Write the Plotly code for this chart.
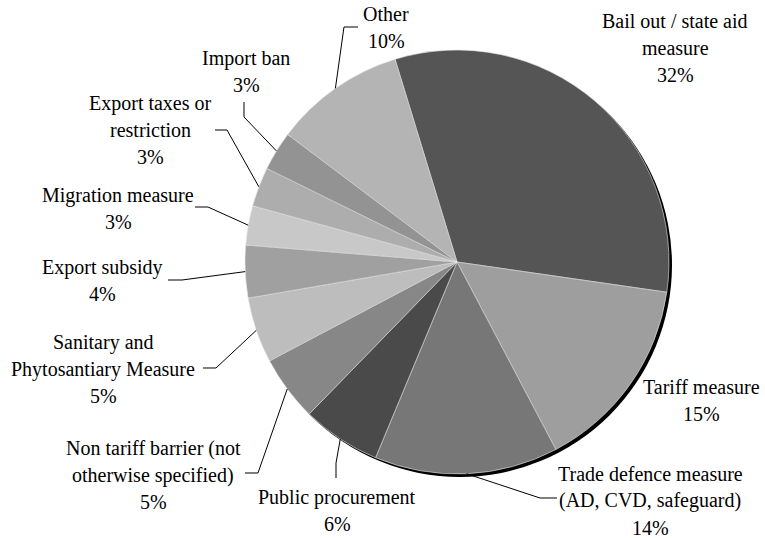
import math
import plotly.graph_objects as go

# ---------------- data ----------------
categories = [
    "Bail out / state aid\nmeasure",
    "Tariff measure",
    "Trade defence measure\n(AD, CVD, safeguard)",
    "Public procurement",
    "Non tariff barrier (not\notherwise specified)",
    "Sanitary and\nPhytosantiary Measure",
    "Export subsidy",
    "Migration measure",
    "Export taxes or\nrestriction",
    "Import ban",
    "Other",
]
values = [32, 15, 14, 6, 5, 5, 4, 3, 3, 3, 10]

# ---------------- style ----------------
colors = ["#555555", "#9e9e9e", "#777777", "#4a4a4a", "#878787", "#bdbdbd",
          "#a0a0a0", "#c8c8c8", "#adadad", "#939393", "#b4b4b4"]

W, H = 765, 538
CX, CY, R = 457, 262, 212
ROT = -17
FAMILY = "Liberation Serif, Times New Roman, serif"
FONT = dict(family=FAMILY, size=20, color="#000000")
LINE_H = 27

# label block positions (text centre x, first line centre y) in pixels
label_pos = [(675, 21), (701, 387), (650, 474), (337, 497), (153, 448),
             (103, 342), (102, 267), (118, 195), (150, 103), (246, 58), (386, 14)]
# leader elbow points (from slice edge outwards) in pixels
leaders = [None, None,
           [(540, 498), (557, 498)],
           [(336, 463), (336, 478)],
           [(258, 473), (245, 473)],
           [(216, 368), (203, 368)],
           [(182, 280), (168, 280)],
           [(208, 207), (195, 207)],
           [(227, 130), (215, 130)],
           [(244, 117), (244, 102)],
           [(344, 27), (358, 27)]]


def px(x):
    return x / W


def py(y):
    return 1 - y / H


dom_x = [px(CX - R), px(CX + R)]
dom_y = [py(CY + R), py(CY - R)]
SH = 3
shadow_x = [px(CX - R + SH), px(CX + R + SH)]
shadow_y = [py(CY + R + SH), py(CY - R + SH)]

fig = go.Figure()
fig.add_trace(go.Pie(
    values=[1], labels=["shadow"], marker=dict(colors=["#000000"]),
    domain=dict(x=shadow_x, y=shadow_y), textinfo="none", hoverinfo="skip",
    showlegend=False, sort=False,
))
fig.add_trace(go.Pie(
    labels=[c.replace("\n", " ") for c in categories], values=values,
    marker=dict(colors=colors, line=dict(color="#e8e8e8", width=0.6)),
    domain=dict(x=dom_x, y=dom_y), sort=False, direction="clockwise",
    rotation=ROT, textinfo="none", showlegend=False,
))

total = sum(values)
annotations = []
shapes = []
cum = 0
for i, (cat, v) in enumerate(zip(categories, values)):
    mid = ROT + (cum + v / 2) / total * 360
    cum += v
    pct = f"{round(v / total * 100)}%"
    lines = cat.split("\n") + [pct]
    lx, ly = label_pos[i]
    for k, t in enumerate(lines):
        annotations.append(dict(
            x=px(lx), y=py(ly + k * LINE_H), xref="paper", yref="paper",
            text=t, showarrow=False, xanchor="center", yanchor="middle",
            font=FONT,
        ))
    if leaders[i]:
        a = math.radians(mid)
        ex, ey = CX + R * math.sin(a), CY - R * math.cos(a)
        pts = [(ex, ey)] + leaders[i]
        path = "M " + " L ".join(f"{px(x):.5f},{py(y):.5f}" for x, y in pts)
        shapes.append(dict(type="path", path=path, xref="paper", yref="paper",
                           line=dict(color="#000000", width=1)))

fig.update_layout(
    width=W, height=H, margin=dict(l=0, r=0, t=0, b=0),
    paper_bgcolor="white", plot_bgcolor="white",
    font=dict(family=FAMILY),
    annotations=annotations, shapes=shapes, showlegend=False,
)
fig.write_html("out.html", config={"displayModeBar": False},
               post_script="document.body.style.margin='0px';")
